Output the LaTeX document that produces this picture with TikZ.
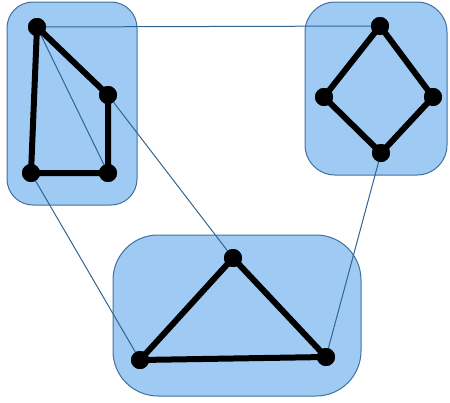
\documentclass[tikz,border=0pt]{standalone}
\definecolor{boxfill}{RGB}{158,202,243}
\definecolor{boxline}{RGB}{65,113,156}
\definecolor{thinline}{RGB}{50,100,145}
\begin{document}
\begin{tikzpicture}[x=1pt,y=-1pt,
  group/.style={draw=boxline,fill=boxfill,line width=1pt},
  vtx/.style={circle,fill=black,inner sep=0pt,minimum size=18pt},
  link/.style={draw=thinline,line width=1pt},
  bond/.style={draw=black,line width=6pt}]
\useasboundingbox (0,0) rectangle (450,402);
% groups
\draw[group,rounded corners=26pt] (7,2) rectangle (137,205);
\draw[group,rounded corners=30pt] (305,2) rectangle (447,175);
\draw[group,rounded corners=45pt] (113,235) rectangle (361,396);
% vertices
\node[vtx] (a) at (37,27) {};
\node[vtx] (b) at (108,95) {};
\node[vtx] (c) at (108,173) {};
\node[vtx] (d) at (31,173) {};
\node[vtx] (e) at (380,26) {};
\node[vtx] (f) at (324,97) {};
\node[vtx] (g) at (433,97) {};
\node[vtx] (h) at (381,153) {};
\node[vtx] (t) at (233,258) {};
\node[vtx] (l) at (140,360) {};
\node[vtx] (r) at (326,357) {};
% thin links
\draw[link] (a.center) -- (c.center);
\draw[link] (a.center) -- (e.center);
\draw[link] (b.center) -- (t.center);
\draw[link] (d.center) -- (l.center);
\draw[link] (h.center) -- (r.center);
% thick bonds
\draw[bond] (a.center) -- (b.center) -- (c.center) -- (d.center) -- (a.center);
\draw[bond] (e.center) -- (g.center) -- (h.center) -- (f.center) -- (e.center);
\draw[bond] (t.center) -- (r.center) -- (l.center) -- (t.center);
% redraw vertices on top
\foreach \n in {a,b,c,d,e,f,g,h,t,l,r} \fill (\n) circle (9pt);
\end{tikzpicture}
\end{document}
